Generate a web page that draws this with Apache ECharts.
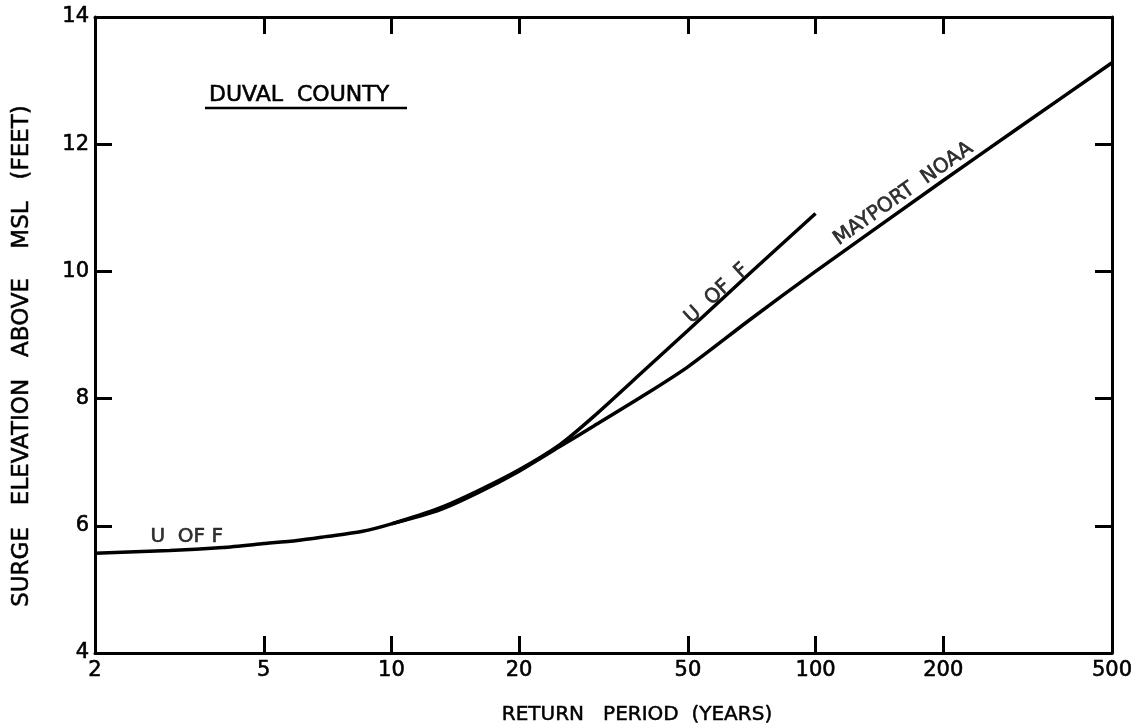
<!DOCTYPE html>
<html>
<head>
<meta charset="utf-8">
<title>Duval County surge elevation vs return period</title>
<script src="https://cdn.jsdelivr.net/npm/echarts@6/dist/echarts.min.js"></script>
<style>
  html, body { margin: 0; padding: 0; background: #fff; }
  #chart { width: 1138px; height: 727px; }
</style>
</head>
<body>
<div id="chart"></div>
<script>
// Return periods (years) and surge elevations (ft above MSL)
const periodsUF = [2, 3, 4, 5, 6, 7, 8.5, 10, 13, 16, 20, 25, 30, 40, 50, 70, 100];
const surgeUF = [5.57, 5.61, 5.66, 5.72, 5.77, 5.83, 5.91, 6.03, 6.28, 6.55, 6.88, 7.28, 7.72, 8.48, 9.07, 9.97, 10.91];

const periodsNOAA = [10, 13, 16, 20, 25, 30, 40, 50, 70, 100, 200, 300, 500];
const surgeNOAA = [6.03, 6.25, 6.52, 6.86, 7.25, 7.57, 8.08, 8.5, 9.24, 10.0, 11.43, 12.25, 13.28];

// Axis ticks
const periodTicks = [2, 5, 10, 20, 50, 100, 200, 500];
const surgeTicks = [4, 6, 8, 10, 12, 14];

// Curve labels, anchored in data space: [period, surge, text, angle]
const curveLabels = [
  [3.29, 5.82, 'U  OF F', 0],
  [58.5, 9.65, 'U  OF  F', 42.5],
  [161, 11.22, 'MAYPORT  NOAA', 35]
];

const FONT = "'DejaVu Sans', sans-serif";
const INK = '#000';
const lg = v => Math.log10(v);
const toPoints = (xs, ys) => xs.map((t, i) => [lg(t), ys[i]]);

const chart = echarts.init(document.getElementById('chart'), null, { renderer: 'canvas' });

// slightly heavier lettering
const textInk = { color: INK, fontFamily: FONT, textBorderColor: INK, textBorderWidth: 0.6 };
const axisLine = { show: true, lineStyle: { color: INK, width: 3 } };
const tickStyle = { show: true, inside: true, length: 17, lineStyle: { color: INK, width: 3 } };
const xTickVals = periodTicks.map(lg);

chart.setOption({
  animation: false,
  backgroundColor: '#fff',
  grid: { left: 95, right: 26, top: 17, bottom: 74, containLabel: false },
  xAxis: [
    {
      type: 'value', position: 'bottom',
      min: lg(2), max: lg(500),
      axisLine: axisLine,
      axisTick: Object.assign({ customValues: xTickVals }, tickStyle),
      axisLabel: Object.assign({
        customValues: xTickVals,
        formatter: v => String(Math.round(Math.pow(10, v))),
        fontSize: 21, margin: 7
      }, textInk),
      splitLine: { show: false }
    },
    {
      type: 'value', position: 'top',
      min: lg(2), max: lg(500),
      axisLine: axisLine,
      axisTick: Object.assign({ customValues: xTickVals }, tickStyle),
      axisLabel: { show: false },
      splitLine: { show: false }
    }
  ],
  yAxis: [
    {
      type: 'value', position: 'left',
      min: surgeTicks[0], max: surgeTicks[surgeTicks.length - 1], interval: 2,
      axisLine: axisLine,
      axisTick: tickStyle,
      axisLabel: Object.assign({ fontSize: 21, margin: 6 }, textInk),
      splitLine: { show: false }
    },
    {
      type: 'value', position: 'right',
      min: surgeTicks[0], max: surgeTicks[surgeTicks.length - 1], interval: 2,
      axisLine: axisLine,
      axisTick: tickStyle,
      axisLabel: { show: false },
      splitLine: { show: false }
    }
  ],
  series: [
    {
      name: 'U OF F', type: 'line',
      data: toPoints(periodsUF, surgeUF),
      smooth: 0.25, showSymbol: false,
      lineStyle: { color: INK, width: 3.5 }
    },
    {
      name: 'MAYPORT NOAA', type: 'line',
      data: toPoints(periodsNOAA, surgeNOAA),
      smooth: 0.25, showSymbol: false,
      lineStyle: { color: INK, width: 3.5 }
    },
    {
      name: 'labels', type: 'scatter',
      symbolSize: 0,
      silent: true,
      data: curveLabels.map(c => ({
        value: [lg(c[0]), c[1]],
        label: Object.assign({
          show: true, formatter: c[2], rotate: c[3],
          position: 'inside', fontSize: 20, align: 'center', verticalAlign: 'middle'
        }, textInk)
      }))
    }
  ],
  graphic: [
    {
      type: 'text', x: 209, y: 95,
      style: { text: 'DUVAL  COUNTY', fill: INK, stroke: INK, lineWidth: 0.6, font: '22px ' + FONT, verticalAlign: 'middle' }
    },
    {
      type: 'line', shape: { x1: 205, y1: 108, x2: 407, y2: 108 },
      style: { stroke: INK, lineWidth: 2.5 }
    },
    {
      type: 'text', x: 637, y: 715,
      style: { text: 'RETURN   PERIOD  (YEARS)', fill: INK, stroke: INK, lineWidth: 0.5, font: '20px ' + FONT, align: 'center', verticalAlign: 'middle' }
    },
    {
      type: 'text', x: 22, y: 356, rotation: Math.PI / 2,
      style: { text: 'SURGE   ELEVATION   ABOVE    MSL   (FEET)', fill: INK, stroke: INK, lineWidth: 0.5, font: '23px ' + FONT, align: 'center', verticalAlign: 'middle' }
    }
  ]
});
</script>
</body>
</html>
